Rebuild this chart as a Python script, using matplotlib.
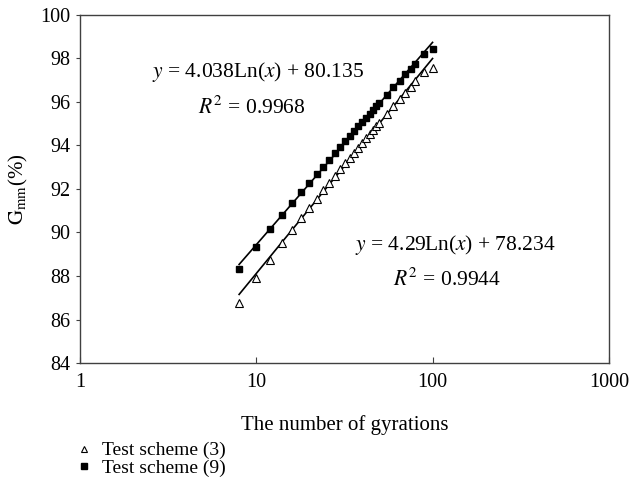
import matplotlib
matplotlib.use("Agg")
import matplotlib.pyplot as plt
import numpy as np

plt.rcParams["font.family"] = ["Liberation Serif", "DejaVu Serif"]
plt.rcParams["mathtext.fontset"] = "stix"

# number of gyrations
gyrations = [8, 10, 12, 14, 16, 18, 20, 22, 24, 26, 28, 30, 32, 34, 36, 38, 40,
             42, 44, 46, 48, 50, 55, 60, 65, 70, 75, 80, 90, 100]

# Gmm (%) for each scheme
scheme3 = [86.75, 87.90, 88.75, 89.50, 90.12, 90.65, 91.12, 91.55, 91.93, 92.28,
           92.60, 92.90, 93.17, 93.43, 93.67, 93.90, 94.12, 94.32, 94.52, 94.70,
           94.88, 95.05, 95.44, 95.80, 96.12, 96.42, 96.70, 96.95, 97.38, 97.55]
scheme9 = [88.30, 89.35, 90.15, 90.80, 91.35, 91.85, 92.28, 92.67, 93.02, 93.35,
           93.65, 93.93, 94.18, 94.43, 94.66, 94.87, 95.08, 95.27, 95.45, 95.63,
           95.80, 95.96, 96.33, 96.67, 96.98, 97.26, 97.52, 97.76, 98.18, 98.45]

# log trendline coefficients (slope, intercept) from the chart labels
fit3 = [4.29, 78.234]
fit9 = [4.038, 80.135]

fig = plt.figure(figsize=(6.29, 4.92), dpi=100)
ax = fig.add_axes([0.127, 0.262, 0.841, 0.708])

xs = np.linspace(8, 100, 200)
ax.plot(xs, fit9[0] * np.log(xs) + fit9[1], color="black", lw=1.2, zorder=2)
ax.plot(xs, fit3[0] * np.log(xs) + fit3[1], color="black", lw=1.2, zorder=2)

l3, = ax.plot(gyrations, scheme3, linestyle="none", marker="^", markersize=6,
              markerfacecolor="white", markeredgecolor="black", markeredgewidth=0.8,
              label="Test scheme (3)", zorder=3)
l9, = ax.plot(gyrations, scheme9, linestyle="none", marker="s", markersize=5,
              color="black", label="Test scheme (9)", zorder=3)

ax.set_xscale("log")
ax.set_xlim(1, 1000)
ax.set_ylim(84, 100)
ax.set_xticks([1, 10, 100, 1000])
ax.set_xticklabels(["1", "10", "100", "1000"])
ax.xaxis.set_minor_locator(matplotlib.ticker.NullLocator())
ax.set_yticks(np.arange(84, 101, 2))

for s in ax.spines.values():
    s.set_color("#404040")
    s.set_linewidth(1.0)
ax.tick_params(axis="x", direction="in", length=4.5, color="#404040", labelsize=14.5, pad=7)
ax.tick_params(axis="y", direction="out", length=3, color="#404040", labelsize=14.5, pad=4)

ax.set_xlabel("The number of gyrations", fontsize=15, labelpad=17)
ax.set_ylabel(r"$\mathrm{G_{mm}}$(%)", fontsize=15, labelpad=7)

ax.text(0.136, 0.836, r"$y$ = 4.038Ln($x$) + 80.135", transform=ax.transAxes,
        fontsize=15.5, va="center")
ax.text(0.223, 0.733, r"$R^{2}$ = 0.9968", transform=ax.transAxes,
        fontsize=15.5, va="center")
ax.text(0.520, 0.339, r"$y$ = 4.29Ln($x$) + 78.234", transform=ax.transAxes,
        fontsize=15.5, va="center")
ax.text(0.592, 0.240, r"$R^{2}$ = 0.9944", transform=ax.transAxes,
        fontsize=15.5, va="center")

fig.legend(handles=[l3, l9], loc="upper left", bbox_to_anchor=(0.118, 0.102),
           frameon=False, fontsize=14, handlelength=1.0, handletextpad=0.45,
           labelspacing=0.0, borderaxespad=0, borderpad=0, markerscale=0.8)

fig.savefig("out.png", dpi=100)
